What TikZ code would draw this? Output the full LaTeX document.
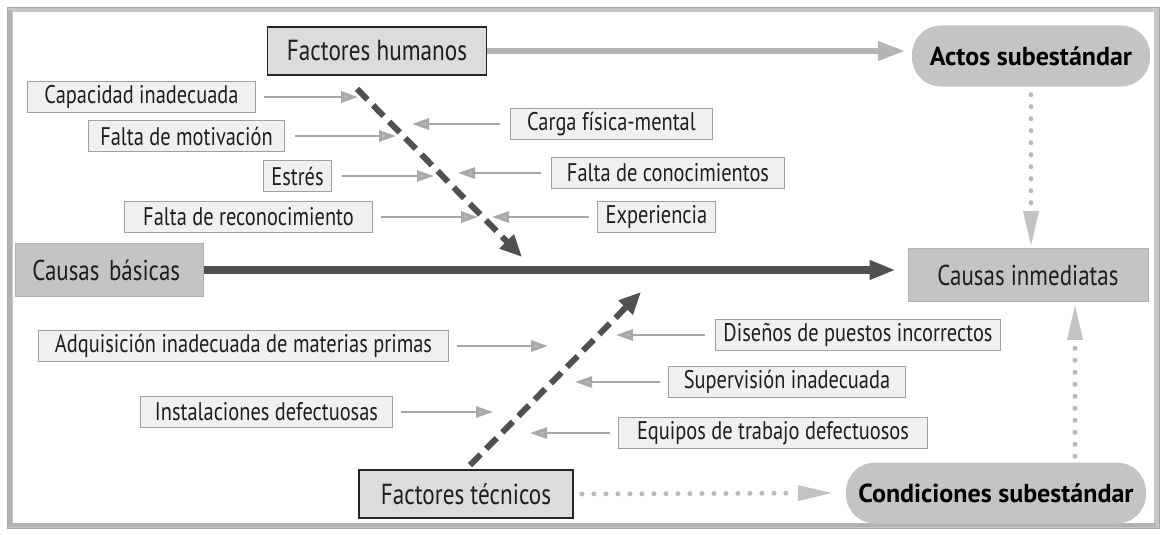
\documentclass[tikz,border=0pt]{standalone}
\usepackage{fontspec}
\setmainfont{PT Sans}[FakeStretch=0.8]
\newfontfamily\pillfont{PT Sans}
\usetikzlibrary{arrows.meta}
\definecolor{lblfill}{HTML}{F0F0F0}
\definecolor{lbldraw}{HTML}{A0A0A0}
\definecolor{keyfill}{HTML}{DCDCDC}
\definecolor{pillfill}{HTML}{C4C4C4}
\definecolor{darkline}{HTML}{505050}
\definecolor{lightarrow}{HTML}{A8A8A8}
\definecolor{txt}{HTML}{1E1E1E}
\begin{document}
\begin{tikzpicture}[x=1pt,y=-1pt,
  lbl/.style={draw=lbldraw,fill=lblfill,line width=1pt,inner sep=0pt,text=txt,
    font=\fontsize{25.5}{27}\selectfont,minimum height=31,anchor=west},
  keybox/.style={draw=black!85,fill=keyfill,line width=1.8pt,inner sep=0pt,text=txt,
    font=\fontsize{29}{30}\selectfont,minimum height=48},
  pill/.style={fill=pillfill,rounded corners=29,inner sep=0pt,text=black,
    font=\pillfont\bfseries\fontsize{26}{28}\selectfont,minimum height=61},
  causebox/.style={fill=pillfill,draw=gray!60,line width=0.6pt,inner sep=0pt,text=txt,
    font=\fontsize{28.7}{30}\selectfont,minimum height=53},
  sarrow/.style={draw=lightarrow,line width=2.8pt,
    -{Triangle[length=17pt,width=11pt,fill=lightarrow!80]}},
  bigarrow/.style={draw=darkline,line width=8pt,
    -{Triangle[length=26pt,width=18pt]}},
  garrow/.style={draw=lightarrow!85,line width=6.5pt,
    -{Triangle[length=28pt,width=18pt]}},
  dasharrow/.style={draw=darkline,line width=6pt,dash pattern=on 15pt off 8pt,
    -{Triangle[length=22pt,width=19pt]}},
  dotarrow/.style={draw=lightarrow!80,line width=5pt,line cap=round,
    dash pattern=on 0pt off 12pt,
    -{Triangle[length=34pt,width=16pt,fill=lightarrow!70,line width=0pt]}}
]
\useasboundingbox (0,0) rectangle (1164,535);
% frame
\fill[white] (0,0) rectangle (1164,535);
\draw[gray!45,line width=5pt] (10,10) rectangle (1156,525);
\draw[gray!70,line width=0.8pt] (7,7) rectangle (1159,528);
\draw[gray!60,line width=4pt] (10,10) -- (10,525) -- (1156,525);

% key nodes
\node[keybox,minimum width=219] (fh) at (377,51) {Factores humanos};
\node[keybox,minimum width=214] (ft) at (466,494) {Factores técnicos};
\node[pill,minimum width=238] (as) at (1031,56) {Actos subestándar};
\node[pill,minimum width=300] (cs) at (996,493) {Condiciones subestándar};
\node[causebox,minimum width=188,anchor=west,text width=154,align=left] (cb) at (15,270) {Causas básicas};
\node[causebox,minimum width=240] (ci) at (1028,275) {Causas inmediatas};

% labels
\node[lbl,minimum width=228] (l1) at (27,97) {Capacidad inadecuada};
\node[lbl,minimum width=196] (l2) at (88,136) {Falta de motivación};
\node[lbl,minimum width=202] (l3) at (510,124) {Carga física-mental};
\node[lbl,minimum width=68]  (l4) at (263,176) {Estrés};
\node[lbl,minimum width=233] (l5) at (551,173) {Falta de conocimientos};
\node[lbl,minimum width=248] (l6) at (124,217) {Falta de reconocimiento};
\node[lbl,minimum width=118] (l7) at (597,217) {Experiencia};
\node[lbl,minimum width=285] (l8) at (715,335) {Diseños de puestos incorrectos};
\node[lbl,minimum width=410] (l9) at (38,346) {Adquisición inadecuada de materias primas};
\node[lbl,minimum width=237] (l10) at (668,382) {Supervisión inadecuada};
\node[lbl,minimum width=252] (l11) at (140,412) {Instalaciones defectuosas};
\node[lbl,minimum width=309] (l12) at (618,433) {Equipos de trabajo defectuosos};

% arrow end coordinates
\coordinate (e1) at (358,97);
\coordinate (e2) at (396,136);
\coordinate (e3) at (412,124);
\coordinate (e4) at (434,176);
\coordinate (e5) at (458,173);
\coordinate (e6) at (478,217);
\coordinate (e7) at (492,217);
\coordinate (e8) at (616,335);
\coordinate (e9) at (548,346);
\coordinate (e10) at (575,382);
\coordinate (e11) at (493,412);
\coordinate (e12) at (530,433);
\coordinate (dh) at (522,257);
\coordinate (dt) at (641,292);

% small arrows
\draw[sarrow] ([xshift=8]l1.east) -- (e1);
\draw[sarrow] ([xshift=10]l2.east) -- (e2);
\draw[sarrow] ([xshift=-10]l3.west) -- (e3);
\draw[sarrow] ([xshift=10]l4.east) -- (e4);
\draw[sarrow] ([xshift=-10]l5.west) -- (e5);
\draw[sarrow] ([xshift=8]l6.east) -- (e6);
\draw[sarrow] ([xshift=-8]l7.west) -- (e7);
\draw[sarrow] ([xshift=-10]l8.west) -- (e8);
\draw[sarrow] ([xshift=8]l9.east) -- (e9);
\draw[sarrow] ([xshift=-8]l10.west) -- (e10);
\draw[sarrow] ([xshift=8]l11.east) -- (e11);
\draw[sarrow] ([xshift=-8]l12.west) -- (e12);

% main arrows
\draw[bigarrow] (cb.east) -- ([xshift=-12]ci.west |- cb.east);
\draw[garrow] (fh.east) -- ([xshift=-6]as.west |- fh.east);
\draw[dasharrow] ([xshift=-20,yshift=-13]fh.south) -- (dh);
\draw[dasharrow] ([xshift=4,yshift=4]ft.north) -- (dt);
\draw[dotarrow] ([xshift=8]ft.east) -- ([xshift=-14]cs.west);
\draw[dotarrow] ([yshift=-8]as.south) -- ([yshift=3]as.south |- ci.north);
\draw[dotarrow] ([xshift=79,yshift=6]cs.north) -- ([xshift=79,yshift=-4]cs.north |- ci.south);
\end{tikzpicture}
\end{document}
